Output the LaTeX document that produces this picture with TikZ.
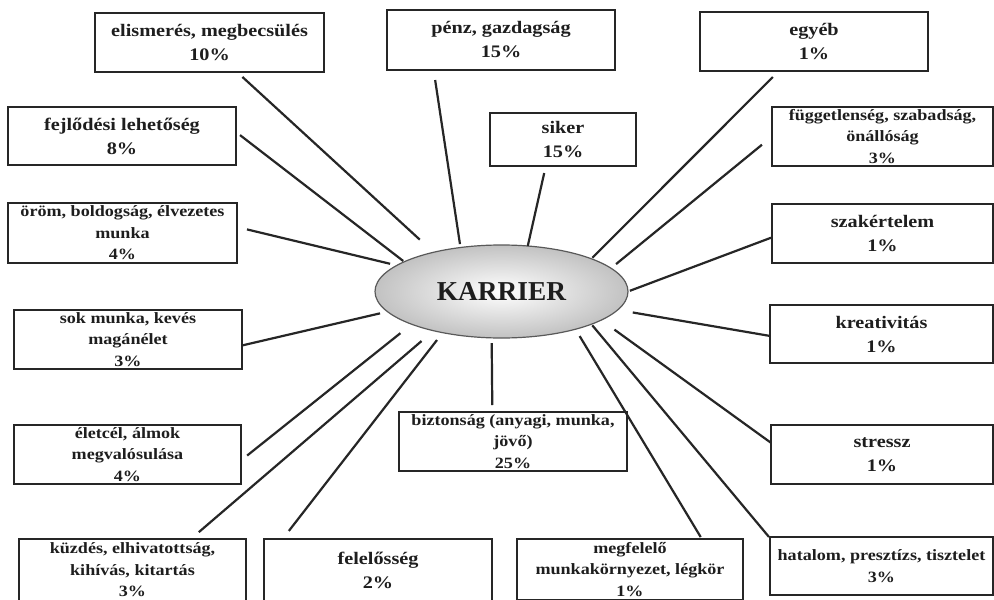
\documentclass[tikz,border=0pt]{standalone}
\usepackage{fontspec}
\setmainfont{Liberation Serif}
\newfontfamily\boxfont[FakeStretch=1.15]{Liberation Serif}
\usetikzlibrary{shapes.geometric}
\definecolor{ink}{HTML}{1E1E1E}
\definecolor{edge}{HTML}{262626}
\tikzset{
  box/.style={draw=edge, line width=1.6pt, rectangle, inner sep=0pt, outer sep=0pt, align=center, text=ink},
  big/.style={font=\boxfont\bfseries\fontsize{13.2}{18}\selectfont},
  small/.style={font=\boxfont\bfseries\fontsize{11.8}{16.1}\selectfont},
  smallwide/.style={font=\boxfont\bfseries\fontsize{11.8}{17}\selectfont},
  spoke/.style={draw=edge, line width=1.65pt},
  hub/.style={ellipse, draw=black!65, line width=0.9pt, inner sep=0pt, outer sep=0pt,
    minimum width=189.75pt, minimum height=69.75pt, inner color=white, outer color=black!24,
    font=\bfseries\fontsize{20.5}{24}\selectfont, text=ink}
}
\newcommand\mybox[7]{%
  \node[box,#2,minimum width={(#5-#3)*0.75pt},minimum height={(#6-#4)*0.75pt}]
    (#1) at ({(#3+#5)/2},{(#4+#6)/2}) {#7};}
\begin{document}
\begin{tikzpicture}[x=0.75pt,y=-0.75pt]
\useasboundingbox[fill=white] (0,0) rectangle (994,599);
\node[hub] (karrier) at (501.5,291.5) {KARRIER};
\mybox{elis}{big}{95}{13}{324}{72}{elismerés, megbecsülés\\10\%}
\mybox{penz}{big}{387}{10}{615}{70}{pénz, gazdagság\\15\%}
\mybox{egyeb}{big}{700}{12}{928}{71}{egyéb\\1\%}
\mybox{fejl}{big}{8}{107}{236}{165}{fejlődési lehetőség\\8\%}
\mybox{siker}{big}{490}{113}{636}{166}{siker\\15\%}
\mybox{fugg}{small}{772}{107}{993}{166}{függetlenség, szabadság,\\önállóság\\3\%}
\mybox{orom}{small}{8}{203}{237}{263}{öröm, boldogság, élvezetes\\munka\\4\%}
\mybox{szak}{big}{772}{204}{993}{263}{szakértelem\\1\%}
\mybox{sok}{small}{14}{310}{242}{369}{sok munka, kevés\\magánélet\\3\%}
\mybox{krea}{big}{770}{305}{993}{363}{kreativitás\\1\%}
\mybox{eletcel}{small}{14}{425}{241}{484}{életcél, álmok\\megvalósulása\\4\%}
\mybox{bizt}{small}{399}{412}{627}{471}{biztonság (anyagi, munka,\\jövő)\\25\%}
\mybox{stressz}{big}{771}{425}{993}{484}{stressz\\1\%}
\mybox{kuzd}{small}{19}{539}{246}{601}{küzdés, elhivatottság,\\kihívás, kitartás\\3\%}
\mybox{felel}{big}{264}{539}{492}{601}{felelősség\\2\%}
\mybox{megf}{small}{517}{539}{743}{600}{megfelelő\\munkakörnyezet, légkör\\1\%}
\mybox{hatalom}{smallwide}{770}{537}{993}{595}{hatalom, presztízs, tisztelet\\3\%}
\draw[spoke, shorten <=5.5pt, shorten >=14pt] (elis.-47.3) -- (karrier.150.1);
\draw[spoke, shorten <=3.8pt, shorten >=1pt] (fejl.2.1) -- (karrier.163.5);
\draw[spoke, shorten <=7.6pt, shorten >=2.6pt] (penz.-156) -- (karrier.133.1);
\draw[spoke, shorten <=5.4pt] (siker.-123.3) -- (karrier.60.7);
\draw[spoke, shorten <=6.4pt, shorten >=1.1pt] (egyeb.-140.7) -- (karrier.20.3);
\draw[spoke, shorten <=9.75pt, shorten >=4.9pt] (fugg.180) -- (karrier.12.6);
\draw[spoke, shorten <=7.7pt, shorten >=5.2pt] (orom.3.3) -- (karrier.166.9);
\draw[spoke, shorten <=0.75pt, shorten >=1.5pt] (szak.182.1) -- (karrier.0.7);
\draw[spoke, shorten <=0.75pt, shorten >=5.7pt] (sok.-3.9) -- (karrier.190.0);
\draw[spoke, shorten >=11.5pt] (krea.181.5) -- (karrier.-9.4);
\draw[spoke, shorten <=5.9pt, shorten >=10.8pt] (eletcel.-3.8) -- (karrier.200.8);
\draw[spoke, shorten <=5.25pt, shorten >=4pt] (bizt.125.2) -- (karrier.-102.6);
\draw[spoke, shorten >=12.2pt] (stressz.174.6) -- (karrier.-16.3);
\draw[spoke, shorten <=7.9pt, shorten >=11.9pt] (kuzd.28.3) -- (karrier.-150.9);
\draw[spoke, shorten <=7.65pt, shorten >=7pt] (felel.162.9) -- (karrier.-145.0);
\draw[spoke, shorten <=1.7pt, shorten >=6pt] (megf.23.9) -- (karrier.-27.3);
\draw[spoke, shorten <=1.2pt, shorten >=1.1pt] (hatalom.166) -- (karrier.-20.3);
\end{tikzpicture}
\end{document}
